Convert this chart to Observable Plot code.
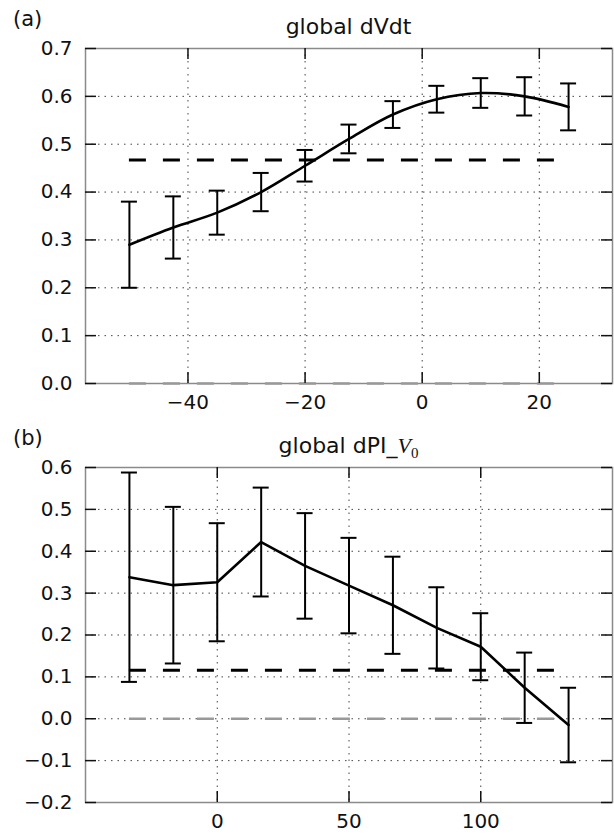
<!DOCTYPE html>
<html>
<head>
<meta charset="utf-8">
<script src="https://cdn.jsdelivr.net/npm/d3@7"></script>
<script src="https://cdn.jsdelivr.net/npm/@observablehq/plot@0.6"></script>
<style>
  html, body { margin: 0; padding: 0; background: #fff; }
  #root { position: relative; width: 614px; height: 834px; overflow: hidden; }
  #root svg { position: absolute; left: 0; }
</style>
</head>
<body>
<div id="root"></div>
<script>
// ---- Panel (a): global dVdt ----
const xA = [-50, -42.5, -35, -27.5, -20, -12.5, -5, 2.5, 10, 17.5, 25];
const yA = [0.290, 0.326, 0.357, 0.400, 0.455, 0.511, 0.562, 0.594, 0.607, 0.600, 0.578];
const errA = [0.090, 0.065, 0.046, 0.040, 0.033, 0.030, 0.028, 0.028, 0.031, 0.040, 0.049];
const refA = 0.467;
const xTicksA = [-40, -20, 0, 20];
const yTicksA = [0.0, 0.1, 0.2, 0.3, 0.4, 0.5, 0.6, 0.7];
const xDomainA = [-57.5, 32.5];
const yDomainA = [0, 0.7];

// ---- Panel (b): global dPI_V0 ----
const xB = [-33.33, -16.67, 0, 16.67, 33.33, 50, 66.67, 83.33, 100, 116.67, 133.33];
const yB = [0.338, 0.319, 0.326, 0.422, 0.365, 0.318, 0.271, 0.217, 0.172, 0.074, -0.015];
const errB = [0.250, 0.187, 0.141, 0.130, 0.126, 0.114, 0.116, 0.097, 0.080, 0.084, 0.089];
const refB = 0.116;
const xTicksB = [0, 50, 100];
const yTicksB = [-0.2, -0.1, 0.0, 0.1, 0.2, 0.3, 0.4, 0.5, 0.6];
const xDomainB = [-50, 150];
const yDomainB = [-0.2, 0.6];

const W = 614;
const mL = 85, mR = 2;
const frameW = W - mL - mR;
const frameH = 335;
const tickLen = 11;

function panel({xs, ys, errs, ref, xTicks, yTicks, xDomain, yDomain, height, marginTop, marginBottom, curve}) {
  const data = xs.map((x, i) => ({x, y: ys[i], lo: ys[i] - errs[i], hi: ys[i] + errs[i]}));
  const xFirst = xs[0], xLast = xs[xs.length - 1];
  const gridStyle = {stroke: "#444", strokeOpacity: 1, strokeWidth: 1, strokeDasharray: "1.5,5"};
  return Plot.plot({
    width: W,
    height,
    marginLeft: mL,
    marginRight: mR,
    marginTop,
    marginBottom,
    style: {fontFamily: "'DejaVu Sans', sans-serif", fontSize: "20px", color: "#111", background: "#fff", overflow: "visible"},
    x: {domain: xDomain, axis: null},
    y: {domain: yDomain, axis: null},
    marks: [
      Plot.gridX(xTicks, gridStyle),
      Plot.gridY(yTicks, gridStyle),
      Plot.frame({stroke: "#8a8a8a", strokeWidth: 1.5}),
      Plot.ruleY([0], {x1: xFirst, x2: xLast, stroke: "#999", strokeWidth: 2.5, strokeDasharray: "17,17"}),
      Plot.ruleY([ref], {x1: xFirst, x2: xLast, stroke: "#000", strokeWidth: 3, strokeDasharray: "17,17"}),
      Plot.ruleX(data, {x: "x", y1: "lo", y2: "hi", stroke: "#000", strokeWidth: 2}),
      Plot.ruleY(data, {y: "hi", x1: "x", x2: "x", insetLeft: -8, insetRight: -8, stroke: "#000", strokeWidth: 2}),
      Plot.ruleY(data, {y: "lo", x1: "x", x2: "x", insetLeft: -8, insetRight: -8, stroke: "#000", strokeWidth: 2}),
      Plot.line(data, {x: "x", y: "y", stroke: "#000", strokeWidth: 2.6, curve}),
      // inward ticks, mirrored on all four sides
      Plot.ruleX(xTicks, {stroke: "#111", strokeWidth: 1.5, insetTop: frameH - tickLen}),
      Plot.ruleX(xTicks, {stroke: "#111", strokeWidth: 1.5, insetBottom: frameH - tickLen}),
      Plot.ruleY(yTicks, {stroke: "#111", strokeWidth: 1.5, insetRight: frameW - tickLen}),
      Plot.ruleY(yTicks, {stroke: "#111", strokeWidth: 1.5, insetLeft: frameW - tickLen}),
      Plot.axisX(xTicks, {anchor: "bottom", tickSize: 0, tickPadding: 11, label: null, tickFormat: d3.format("d"), fill: "#111"}),
      Plot.axisY(yTicks, {anchor: "left", tickSize: 0, tickPadding: 13, label: null, tickFormat: d3.format(".1f"), fill: "#111"})
    ]
  });
}

const root = document.getElementById("root");

const topH = 420;
const svgA = panel({
  xs: xA, ys: yA, errs: errA, ref: refA, xTicks: xTicksA, yTicks: yTicksA,
  xDomain: xDomainA, yDomain: yDomainA,
  height: topH, marginTop: 48, marginBottom: topH - 48 - frameH, curve: "catmull-rom"
});
svgA.style.top = "0px";
root.appendChild(svgA);

const botH = 414;
const svgB = panel({
  xs: xB, ys: yB, errs: errB, ref: refB, xTicks: xTicksB, yTicks: yTicksB,
  xDomain: xDomainB, yDomain: yDomainB,
  height: botH, marginTop: 47, marginBottom: botH - 47 - frameH, curve: "linear"
});
svgB.style.top = topH + "px";
root.appendChild(svgB);

// titles and panel labels
const NS = "http://www.w3.org/2000/svg";
const over = document.createElementNS(NS, "svg");
over.setAttribute("width", W);
over.setAttribute("height", 834);
over.style.top = "0px";
over.style.pointerEvents = "none";
over.style.fontFamily = "'DejaVu Sans', sans-serif";
root.appendChild(over);

function addText(x, y, str, size, anchor) {
  const t = document.createElementNS(NS, "text");
  t.setAttribute("x", x);
  t.setAttribute("y", y);
  t.setAttribute("font-size", size);
  t.setAttribute("text-anchor", anchor);
  t.setAttribute("fill", "#111");
  t.textContent = str;
  over.appendChild(t);
  return t;
}
const cx = mL + frameW / 2;
addText(13, 26, "(a)", 21, "start");
addText(cx, 33.5, "global dVdt", 22, "middle");
addText(13, 445, "(b)", 21, "start");
const tB = addText(cx, 453, "global dPI_", 22, "middle");
const tV = document.createElementNS(NS, "tspan");
tV.setAttribute("font-family", "'Liberation Serif', 'DejaVu Serif', serif");
tV.setAttribute("font-style", "italic");
tV.textContent = "V";
tB.appendChild(tV);
const t0 = document.createElementNS(NS, "tspan");
t0.setAttribute("font-family", "'Liberation Serif', 'DejaVu Serif', serif");
t0.setAttribute("font-size", 15);
t0.setAttribute("dy", 4.5);
t0.textContent = "0";
tB.appendChild(t0);
</script>
</body>
</html>
